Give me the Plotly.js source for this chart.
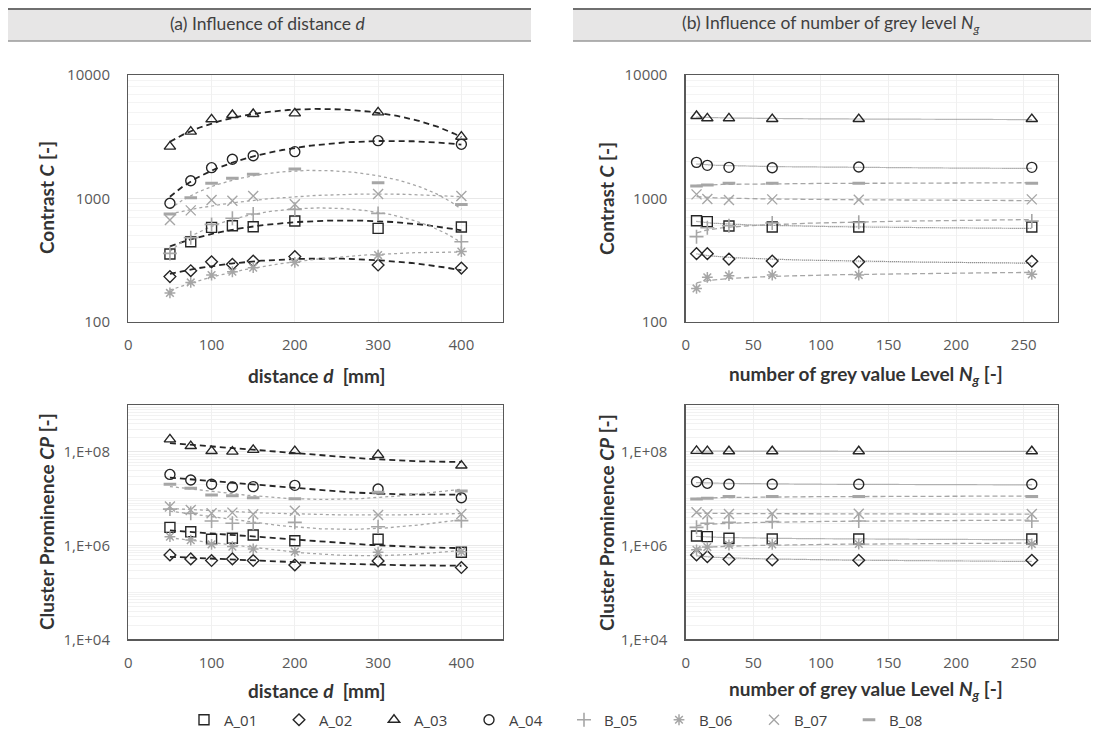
<!DOCTYPE html>
<html><head><meta charset="utf-8">
<script src="https://cdn.plot.ly/plotly-3.0.1.min.js"></script>
<style>html,body{margin:0;padding:0;background:#fff;} #chart{width:1095px;height:737px;}</style>
</head><body><div id="chart"></div>
<script>
// ---------- DATA ----------
const seriesNames = ['A_01','A_02','A_03','A_04','B_05','B_06','B_07','B_08'];
const distance = [50, 75, 100, 125, 150, 200, 300, 400];
const greyLevels = [8, 16, 32, 64, 128, 256];

// Contrast C vs distance d
const contrastD_A01 = [354, 445, 582, 600, 589, 655, 571, 586];
const contrastD_A02 = [232, 259, 306, 292, 310, 337, 288, 272];
const contrastD_A03 = [2624, 3474, 4372, 4742, 4830, 4887, 4980, 3162];
const contrastD_A04 = [912, 1390, 1773, 2072, 2218, 2390, 2935, 2741];
const contrastD_B05 = [358, 480, 615, 689, 746, 814, 755, 445];
const contrastD_B06 = [171, 208, 239, 254, 274, 303, 347, 370];
const contrastD_B07 = [667, 799, 969, 957, 1044, 894, 1084, 1044];
const contrastD_B08 = [746, 1012, 1324, 1452, 1566, 1730, 1340, 893];

// Contrast C vs grey levels Ng
const contrastN_A01 = [659, 647, 597, 586, 586, 586];
const contrastN_A02 = [356, 356, 322, 310, 306, 309];
const contrastN_A03 = [4652, 4455, 4455, 4395, 4395, 4395];
const contrastN_A04 = [1958, 1852, 1784, 1772, 1795, 1784];
const contrastN_B05 = [489, 578, 600, 631, 639, 655];
const contrastN_B06 = [186, 229, 236, 239, 239, 242];
const contrastN_B07 = [1077, 988, 969, 981, 975, 981];
const contrastN_B08 = [1259, 1283, 1324, 1324, 1324, 1324];

// Cluster prominence CP vs distance d
const promD_A01 = [2.45e6, 1.98e6, 1.36e6, 1.43e6, 1.68e6, 1.27e6, 1.36e6, 7.2e5];
const promD_A02 = [6.3e5, 5.2e5, 4.8e5, 5.2e5, 4.8e5, 3.85e5, 4.7e5, 3.4e5];
const promD_A03 = [1.85e8, 1.33e8, 1.04e8, 1.01e8, 1.1e8, 1.04e8, 8.6e7, 5.1e7];
const promD_A04 = [3.3e7, 2.5e7, 2.03e7, 1.78e7, 1.81e7, 1.93e7, 1.61e7, 1.05e7];
const promD_B05 = [6.0e6, 4.9e6, 3.35e6, 2.99e6, 2.99e6, 3.13e6, 2.53e6, 3.4e6];
const promD_B06 = [1.55e6, 1.31e6, 1.06e6, 9.5e5, 8.5e5, 7.4e5, 7.2e5, 7.4e5];
const promD_B07 = [6.8e6, 5.75e6, 4.9e6, 5.05e6, 4.65e6, 5.56e6, 4.5e6, 4.72e6];
const promD_B08 = [2.03e7, 1.67e7, 1.2e7, 1.16e7, 1.05e7, 1.0e7, 1.37e7, 1.46e7];

// Cluster prominence CP vs grey levels Ng
const promN_A01 = [1.6e6, 1.55e6, 1.43e6, 1.38e6, 1.38e6, 1.38e6];
const promN_A02 = [6.3e5, 5.8e5, 5.1e5, 4.93e5, 4.86e5, 4.86e5];
const promN_A03 = [1.05e8, 1.04e8, 1.03e8, 1.03e8, 1.03e8, 1.03e8];
const promN_A04 = [2.31e7, 2.13e7, 2.03e7, 2.03e7, 2.03e7, 2.03e7];
const promN_B05 = [2.45e6, 2.99e6, 3.13e6, 3.24e6, 3.35e6, 3.35e6];
const promN_B06 = [8.1e5, 9.3e5, 1.03e6, 1.06e6, 1.08e6, 1.08e6];
const promN_B07 = [5.13e6, 4.65e6, 4.72e6, 4.8e6, 4.8e6, 4.72e6];
const promN_B08 = [9.9e6, 1.02e7, 1.11e7, 1.11e7, 1.11e7, 1.12e7];

const contrastTicks = [100, 1000, 10000];
const contrastTickText = ['100', '1000', '10000'];
const promTicks = [1e4, 1e6, 1e8];
const promTickText = ['1,E+04', '1,E+06', '1,E+08'];

// ---------- STYLES ----------
const DARK = '#262626', GREY = '#a6a6a6';
const markerStyles = [
  {symbol:'square-open', size:10, color:DARK, w:1.4},
  {symbol:'diamond-open', size:9, color:DARK, w:1.4},
  {symbol:'triangle-up-open', size:10, color:DARK, w:1.4},
  {symbol:'circle-open', size:10, color:DARK, w:1.4},
  {symbol:'cross-thin-open', size:10, color:GREY, w:1.6},
  {symbol:'asterisk-open', size:9, color:GREY, w:1.5},
  {symbol:'x-thin-open', size:10, color:GREY, w:1.4},
  {symbol:'line-ew-open', size:9, color:GREY, w:3}
];

// ---------- FITS (trendlines computed from data) ----------
function polyFit2(xs, ys) {
  let s = [0,0,0,0,0], t = [0,0,0];
  xs.forEach((x,i)=>{ let p=1; for(let k=0;k<5;k++){ s[k]+=p; if(k<3) t[k]+=p*ys[i]; p*=x; } });
  const A = [[s[0],s[1],s[2],t[0]],[s[1],s[2],s[3],t[1]],[s[2],s[3],s[4],t[2]]];
  for (let c=0;c<3;c++){ for(let r=c+1;r<3;r++){ const f=A[r][c]/A[c][c]; for(let k=c;k<4;k++) A[r][k]-=f*A[c][k]; } }
  const b=[0,0,0];
  for (let r=2;r>=0;r--){ let v=A[r][3]; for(let k=r+1;k<3;k++) v-=A[r][k]*b[k]; b[r]=v/A[r][r]; }
  return x => b[0]+b[1]*x+b[2]*x*x;
}
function logFit(xs, ys) {
  const lx = xs.map(Math.log), n = xs.length;
  const mx = lx.reduce((a,b)=>a+b,0)/n, my = ys.reduce((a,b)=>a+b,0)/n;
  let sxy=0, sxx=0; lx.forEach((v,i)=>{ sxy+=(v-mx)*(ys[i]-my); sxx+=(v-mx)*(v-mx); });
  const a = sxy/sxx, b = my - a*mx;
  return x => a*Math.log(x)+b;
}

const panels = [
  {xa:'x',  ya:'y',  xs:distance,   fit:'poly', data:[contrastD_A01,contrastD_A02,contrastD_A03,contrastD_A04,contrastD_B05,contrastD_B06,contrastD_B07,contrastD_B08]},
  {xa:'x2', ya:'y2', xs:greyLevels, fit:'log',  data:[contrastN_A01,contrastN_A02,contrastN_A03,contrastN_A04,contrastN_B05,contrastN_B06,contrastN_B07,contrastN_B08]},
  {xa:'x3', ya:'y3', xs:distance,   fit:'poly', data:[promD_A01,promD_A02,promD_A03,promD_A04,promD_B05,promD_B06,promD_B07,promD_B08]},
  {xa:'x4', ya:'y4', xs:greyLevels, fit:'log',  data:[promN_A01,promN_A02,promN_A03,promN_A04,promN_B05,promN_B06,promN_B07,promN_B08]}
];

const traces = [];
panels.forEach((p, pi) => {
  p.data.forEach((ys, si) => {
    const f = p.fit === 'poly' ? polyFit2(p.xs, ys) : logFit(p.xs, ys);
    const x0 = p.xs[0], x1 = p.xs[p.xs.length-1], N = 200;
    const fx = [], fy = [];
    for (let i=0;i<=N;i++){ const x = x0 + (x1-x0)*i/N; fx.push(x); fy.push(f(x)); }
    const isA = si < 4;
    let line;
    if (p.fit === 'poly') line = isA ? {color:DARK, width:1.8, dash:'6px,4px'} : {color:GREY, width:1.3, dash:'3px,3px'};
    else line = isA ? {color:'#6f6f6f', width:1.2, dash:'1px,1px'} : {color:GREY, width:1.3, dash:'5px,3px'};
    traces.push({type:'scatter', mode:'lines', x:fx, y:fy, xaxis:p.xa, yaxis:p.ya, line:line,
      showlegend:false, hoverinfo:'skip', legendgroup:seriesNames[si]});
  });
});
panels.forEach((p, pi) => {
  p.data.forEach((ys, si) => {
    const m = markerStyles[si];
    traces.push({type:'scatter', mode:'markers', x:p.xs, y:ys, xaxis:p.xa, yaxis:p.ya,
      name:seriesNames[si], legendgroup:seriesNames[si], showlegend:pi===0, legendrank:si,
      marker:{symbol:m.symbol, size:m.size, color:m.color, line:{color:m.color, width:m.w}}});
  });
});

// ---------- LAYOUT ----------
const W = 1095, H = 737;
const px = v => v / W, py = v => 1 - v / H;
function minorVals(d0, d1) { const a=[]; for(let d=d0; d<d1; d++) for(let n=1;n<=9;n++){ const v=n*Math.pow(10,d); a.push(v);} return a; }
const tickFont = {family:'Open Sans, sans-serif', size:15, color:'#595959'};
const axBase = {showline:true, mirror:true, linecolor:'#595959', linewidth:1.3, ticks:'', zeroline:false,
  showgrid:true, gridcolor:'#e8e8e8', gridwidth:1, tickfont:tickFont, fixedrange:true};
function xAx(dom, max, dtick, anchor){ return Object.assign({}, axBase, {domain:dom, range:[0,max], tick0:0, dtick:dtick, anchor:anchor, ticklabelstandoff:9, gridcolor:'#f0f0f0'}); }
function yAxC(dom, anchor){ return Object.assign({}, axBase, {type:'log', domain:dom, range:[2,4], tickmode:'array', tickvals:contrastTicks, ticktext:contrastTickText, anchor:anchor, ticklabelstandoff:14,
  minor:{tickmode:'array', tickvals:minorVals(2,4), showgrid:true, gridcolor:'#f4f4f4', ticks:''}}); }
function yAxP(dom, anchor){ return Object.assign({}, axBase, {type:'log', domain:dom, range:[4,9], tickmode:'array', tickvals:promTicks, ticktext:promTickText, anchor:anchor, ticklabelstandoff:14,
  minor:{tickmode:'array', tickvals:minorVals(4,9), showgrid:true, gridcolor:'#f2f2f2', ticks:''}}); }

const leftX = [px(128.3), px(503)], rightX = [px(685.7), px(1057.5)];
const topY = [py(321.7), py(75)], botY = [py(639.3), py(405)];

const titleFont = {family:'Lato, sans-serif', size:19, color:'#333333', weight:'bold'};
const headFont = {family:'Lato, sans-serif', size:17.5, color:'#404040'};
function ann(text, x, y, font, angle){ return {text:text, xref:'paper', yref:'paper', x:px(x), y:py(y), xanchor:'center', yanchor:'middle', showarrow:false, font:font, textangle:angle||0}; }

const layout = {
  width:W, height:H, margin:{l:0,r:0,t:0,b:0}, paper_bgcolor:'#ffffff', plot_bgcolor:'#ffffff',
  xaxis: xAx(leftX, 450, 100, 'y'),   yaxis: yAxC(topY, 'x'),
  xaxis2: xAx(rightX, 275, 50, 'y2'), yaxis2: yAxC(topY, 'x2'),
  xaxis3: xAx(leftX, 450, 100, 'y3'), yaxis3: yAxP(botY, 'x3'),
  xaxis4: xAx(rightX, 275, 50, 'y4'), yaxis4: yAxP(botY, 'x4'),
  showlegend:true,
  legend:{orientation:'h', x:px(184), xanchor:'left', y:py(720), yanchor:'middle', entrywidth:50, entrywidthmode:'pixels',
    itemwidth:30, font:{family:'Open Sans, sans-serif', size:15, color:'#404040'}, bgcolor:'rgba(0,0,0,0)', traceorder:'normal'},
  shapes:[
    {type:'rect', xref:'paper', yref:'paper', x0:px(8), x1:px(531), y0:py(41), y1:py(9), fillcolor:'#e7e6e6', line:{width:0}, layer:'below'},
    {type:'rect', xref:'paper', yref:'paper', x0:px(573), x1:px(1091), y0:py(41), y1:py(9), fillcolor:'#e7e6e6', line:{width:0}, layer:'below'},
    {type:'line', xref:'paper', yref:'paper', x0:px(8), x1:px(531), y0:py(9), y1:py(9), line:{color:'#6f6f6f', width:2}},
    {type:'line', xref:'paper', yref:'paper', x0:px(8), x1:px(531), y0:py(41), y1:py(41), line:{color:'#9a9a9a', width:1.5}},
    {type:'line', xref:'paper', yref:'paper', x0:px(573), x1:px(1091), y0:py(9), y1:py(9), line:{color:'#6f6f6f', width:2}},
    {type:'line', xref:'paper', yref:'paper', x0:px(573), x1:px(1091), y0:py(41), y1:py(41), line:{color:'#9a9a9a', width:1.5}}
  ],
  annotations:[
    ann('(a) Influence of distance <i>d</i>', 268, 24, headFont),
    ann('(b) Influence of number of grey level <i>N<sub>g</sub></i>', 830, 24, headFont),
    ann('Contrast <i>C</i> [-]', 46, 198, titleFont, -90),
    ann('Contrast <i>C</i> [-]', 606, 198, titleFont, -90),
    ann('Cluster Prominence <i>CP</i> [-]', 46, 522, titleFont, -90),
    ann('Cluster Prominence <i>CP</i> [-]', 606, 522, titleFont, -90),
    ann('distance <i>d</i>&nbsp; [mm]', 316, 375, titleFont),
    ann('distance <i>d</i>&nbsp; [mm]', 316, 690, titleFont),
    ann('number of grey value Level <i>N<sub>g</sub></i> [-]', 866, 375, titleFont),
    ann('number of grey value Level <i>N<sub>g</sub></i> [-]', 866, 690, titleFont)
  ]
};

Plotly.newPlot('chart', traces, layout, {displayModeBar:false, staticPlot:true});
</script>
</body></html>
